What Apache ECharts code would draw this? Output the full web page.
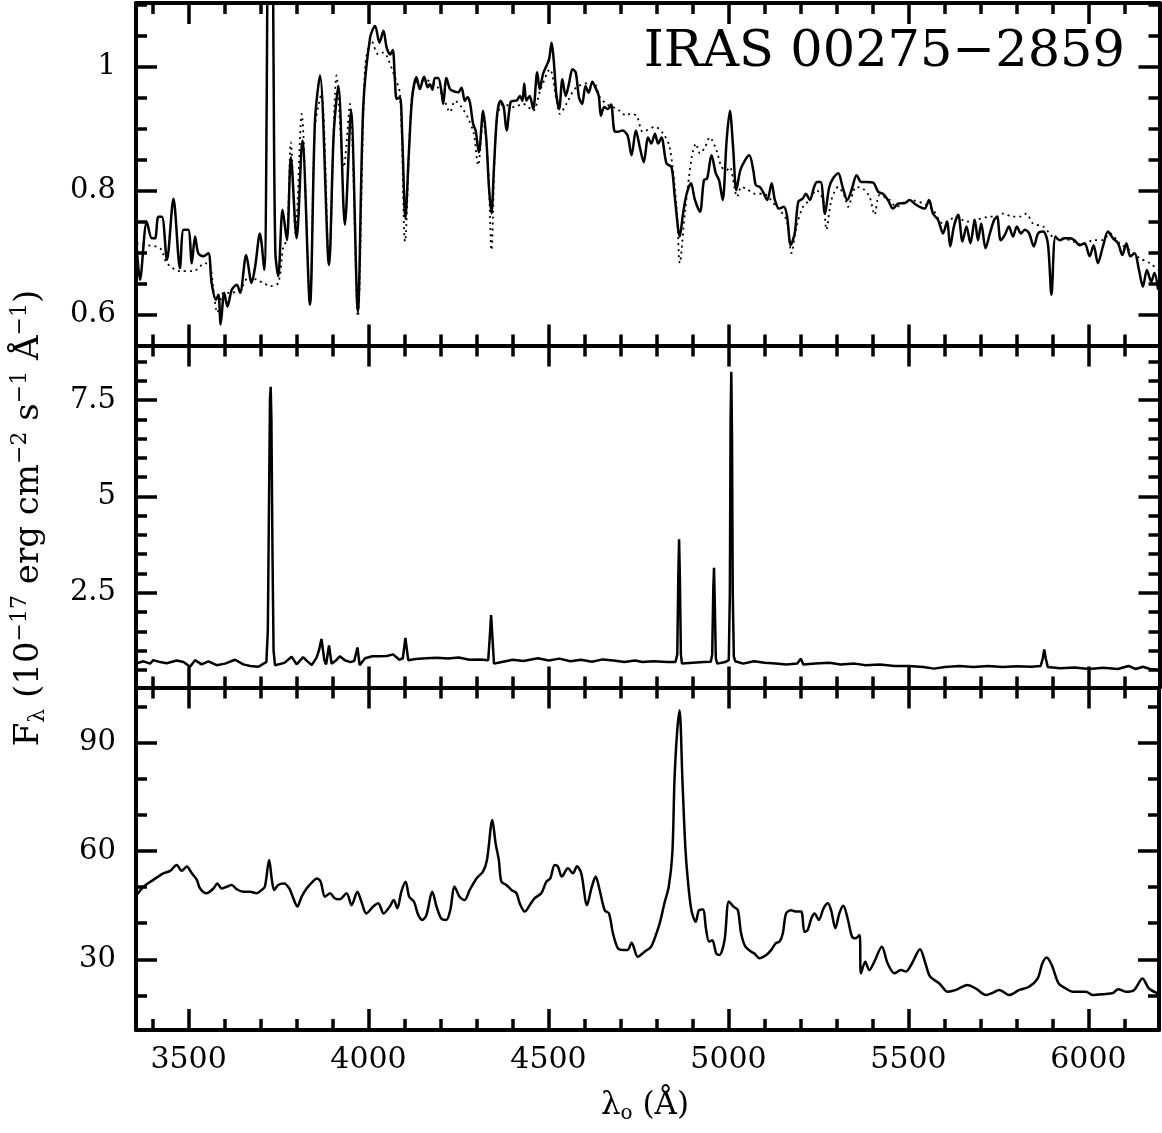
<!DOCTYPE html>
<html><head><meta charset="utf-8">
<script src="https://cdn.jsdelivr.net/npm/echarts@6/dist/echarts.min.js"></script>
<style>html,body{margin:0;padding:0;background:#fff}#c{width:1162px;height:1133px}</style>
</head><body><div id="c"></div>
<script>
// ---- Top panel: observed (solid) and model (dotted), normalised flux ----
const topWave = [3356,3365,3384,3398,3407,3416,3426,3440,3458,3476,3486,3499,3509,3518,3527,3541,3555,3564,3576,3583,3589,3599,3608,3620,3634,3643,3660,3675,3685,3698,3710,3717,3721,3727,3732,3736,3741,3749,3761,3773,3784,3800,3816,3837,3851,3865,3890,3903,3916,3934,3951,3970,3985,4004,4018,4030,4041,4050,4060,4067,4073,4078,4087,4093,4102,4112,4121,4133,4142,4154,4164,4170,4177,4184,4193,4202,4207,4216,4226,4239,4249,4258,4267,4274,4281,4290,4297,4306,4318,4327,4334,4341,4348,4357,4366,4375,4383,4394,4403,4412,4420,4427,4432,4438,4447,4457,4468,4475,4484,4494,4501,4508,4514,4521,4529,4538,4547,4556,4566,4575,4584,4593,4602,4611,4621,4630,4639,4645,4654,4664,4673,4682,4691,4705,4719,4730,4742,4753,4764,4776,4785,4795,4804,4813,4827,4841,4850,4864,4873,4883,4895,4906,4920,4931,4940,4952,4964,4973,4983,4994,5003,5012,5021,5032,5045,5057,5068,5075,5086,5095,5107,5119,5128,5140,5153,5162,5172,5183,5193,5205,5214,5225,5237,5245,5255,5267,5279,5292,5304,5316,5329,5341,5355,5368,5382,5401,5415,5428,5442,5456,5470,5489,5503,5516,5530,5544,5556,5567,5581,5595,5606,5615,5625,5637,5649,5660,5671,5683,5692,5701,5713,5725,5737,5745,5755,5766,5778,5789,5800,5811,5822,5834,5847,5859,5873,5886,5896,5907,5919,5933,5947,5960,5974,5988,6002,6013,6025,6039,6053,6067,6081,6093,6104,6115,6127,6139,6150,6161,6173,6182,6192];
const topSolid = [0.710,0.656,0.750,0.723,0.723,0.758,0.758,0.688,0.787,0.675,0.737,0.737,0.683,0.726,0.699,0.694,0.699,0.651,0.624,0.632,0.584,0.635,0.613,0.640,0.648,0.635,0.696,0.651,0.678,0.731,0.672,0.95,1.40,1.80,1.40,1.00,0.70,0.662,0.769,0.720,0.854,0.723,0.881,0.616,0.913,0.986,0.680,0.892,0.969,0.745,0.929,0.605,0.935,1.047,1.066,1.039,1.058,1.031,1.020,1.027,0.978,0.948,0.951,0.892,0.755,0.865,0.951,0.983,0.964,0.984,0.967,0.972,0.963,0.982,0.982,0.961,0.940,0.982,0.964,0.960,0.959,0.966,0.945,0.951,0.943,0.908,0.897,0.862,0.929,0.881,0.806,0.763,0.838,0.924,0.945,0.935,0.897,0.943,0.945,0.946,0.953,0.945,0.973,0.945,0.953,0.932,0.991,0.964,0.988,1.002,1.012,1.039,1.010,0.956,0.932,0.980,0.953,0.972,0.996,0.991,0.951,0.940,0.969,0.958,0.976,0.966,0.953,0.921,0.935,0.932,0.939,0.897,0.895,0.897,0.889,0.857,0.897,0.870,0.846,0.886,0.876,0.892,0.876,0.886,0.844,0.838,0.790,0.726,0.763,0.795,0.812,0.785,0.766,0.817,0.820,0.857,0.828,0.817,0.785,0.881,0.929,0.870,0.801,0.833,0.849,0.857,0.833,0.809,0.806,0.798,0.785,0.812,0.785,0.771,0.774,0.758,0.712,0.731,0.782,0.787,0.795,0.785,0.806,0.814,0.814,0.763,0.806,0.822,0.828,0.806,0.785,0.801,0.825,0.814,0.814,0.813,0.798,0.795,0.785,0.771,0.779,0.780,0.785,0.779,0.774,0.771,0.785,0.763,0.753,0.731,0.750,0.710,0.742,0.761,0.718,0.742,0.715,0.753,0.720,0.747,0.707,0.731,0.753,0.758,0.720,0.728,0.742,0.726,0.742,0.731,0.737,0.731,0.710,0.731,0.734,0.715,0.632,0.726,0.720,0.723,0.723,0.720,0.712,0.715,0.694,0.712,0.683,0.710,0.734,0.723,0.715,0.696,0.715,0.694,0.699,0.672,0.645,0.672,0.653,0.667,0.640];
const modelWave = [3356,3384,3421,3440,3476,3513,3546,3560,3569,3580,3597,3615,3643,3669,3689,3707,3726,3749,3763,3773,3784,3797,3814,3837,3851,3869,3890,3911,3931,3948,3970,3990,4008,4027,4041,4050,4068,4087,4101,4119,4133,4161,4189,4207,4226,4240,4258,4277,4292,4304,4318,4332,4341,4355,4374,4402,4429,4457,4476,4503,4522,4531,4549,4577,4623,4642,4660,4679,4697,4716,4725,4744,4762,4795,4818,4836,4855,4864,4878,4897,4909,4920,4934,4947,4966,4980,4994,5003,5017,5023,5035,5049,5072,5095,5132,5160,5174,5188,5206,5225,5243,5262,5271,5285,5304,5322,5331,5354,5373,5391,5405,5419,5447,5465,5503,5549,5567,5595,5614,5632,5660,5688,5725,5743,5762,5789,5808,5826,5845,5873,5891,5905,5928,5956,5984,6011,6039,6058,6085,6113,6141,6169,6192];
const modelFlux = [0.715,0.712,0.707,0.683,0.670,0.670,0.683,0.678,0.640,0.603,0.635,0.635,0.640,0.662,0.656,0.651,0.646,0.651,0.710,0.720,0.878,0.731,0.924,0.619,0.903,0.956,0.683,0.986,0.838,0.940,0.597,0.999,1.042,1.020,1.023,1.018,0.991,0.956,0.718,0.945,0.975,0.978,0.969,0.951,0.927,0.945,0.935,0.916,0.892,0.841,0.913,0.838,0.704,0.913,0.940,0.935,0.940,0.929,0.961,0.996,0.945,0.924,0.940,0.967,0.975,0.951,0.940,0.935,0.929,0.921,0.924,0.921,0.895,0.903,0.892,0.870,0.774,0.683,0.763,0.854,0.876,0.860,0.870,0.886,0.865,0.838,0.833,0.838,0.801,0.790,0.806,0.803,0.795,0.795,0.774,0.753,0.699,0.742,0.774,0.785,0.801,0.785,0.737,0.785,0.806,0.790,0.774,0.806,0.803,0.790,0.761,0.793,0.785,0.774,0.785,0.777,0.769,0.747,0.753,0.758,0.750,0.753,0.758,0.758,0.763,0.758,0.758,0.763,0.747,0.742,0.731,0.723,0.723,0.718,0.712,0.720,0.720,0.731,0.715,0.704,0.691,0.683,0.672];
// ---- Middle panel: emission-line spectrum ----
const emWave = [3356,3375,3393,3402,3421,3439,3467,3486,3504,3518,3536,3555,3578,3601,3629,3652,3671,3694,3708,3716,3720,3723,3726,3728,3730,3733,3736,3740,3745,3766,3786,3800,3818,3830,3842,3855,3862,3869,3877,3882,3890,3897,3910,3920,3935,3950,3960,3969,3975,3990,4010,4030,4050,4068,4085,4095,4102,4110,4130,4160,4190,4220,4250,4280,4310,4332,4336,4340,4344,4348,4370,4400,4430,4470,4500,4530,4560,4590,4620,4650,4680,4710,4740,4760,4790,4830,4852,4857,4860,4862,4864,4867,4870,4900,4930,4950,4954,4957,4959,4961,4964,4968,4990,5000,5003,5005,5007,5009,5011,5014,5018,5040,5070,5100,5130,5160,5190,5200,5207,5240,5280,5310,5350,5380,5420,5460,5500,5540,5570,5600,5640,5680,5720,5760,5800,5840,5866,5872,5876,5880,5886,5920,5960,6000,6040,6080,6110,6130,6150,6170,6195];
const emFlux = [0.67,0.72,0.66,0.75,0.70,0.67,0.74,0.70,0.58,0.75,0.64,0.72,0.62,0.66,0.76,0.64,0.60,0.58,0.66,0.70,1.5,4.5,7.5,7.85,7.0,3.5,1.0,0.62,0.66,0.68,0.84,0.64,0.83,0.72,0.62,0.81,1.0,1.30,0.75,0.64,1.13,0.66,0.75,0.85,0.74,0.70,0.73,1.08,0.62,0.80,0.85,0.85,0.86,0.90,0.76,0.80,1.33,0.75,0.78,0.80,0.81,0.79,0.82,0.76,0.77,0.75,1.3,1.92,1.3,0.66,0.70,0.76,0.73,0.80,0.74,0.79,0.72,0.76,0.71,0.77,0.74,0.70,0.74,0.70,0.72,0.70,0.70,0.9,3.0,3.89,3.0,0.9,0.66,0.68,0.70,0.71,0.9,2.6,3.15,2.3,0.8,0.66,0.70,0.75,2.5,7.0,8.24,6.5,2.5,0.85,0.72,0.66,0.72,0.68,0.66,0.64,0.66,0.79,0.64,0.66,0.68,0.64,0.66,0.62,0.64,0.60,0.60,0.57,0.53,0.57,0.60,0.57,0.60,0.57,0.59,0.58,0.60,0.80,1.03,0.80,0.57,0.54,0.56,0.52,0.55,0.52,0.60,0.52,0.58,0.52,0.49];
// ---- Bottom panel: broad-line spectrum ----
const blWave = [3356,3375,3402,3430,3449,3467,3481,3495,3509,3523,3532,3550,3569,3580,3592,3606,3620,3634,3652,3671,3689,3703,3712,3724,3731,3738,3749,3765,3780,3791,3802,3814,3828,3845,3856,3867,3879,3893,3906,3920,3939,3953,3969,3980,3994,4013,4027,4042,4059,4070,4080,4091,4103,4113,4126,4138,4150,4161,4177,4189,4202,4216,4227,4239,4253,4267,4281,4300,4318,4329,4344,4353,4362,4369,4383,4397,4411,4420,4434,4448,4461,4480,4494,4505,4517,4526,4537,4554,4568,4579,4591,4607,4619,4631,4642,4656,4668,4679,4693,4707,4720,4731,4748,4767,4785,4795,4809,4822,4834,4844,4850,4857,4864,4872,4880,4887,4897,4909,4918,4929,4938,4946,4955,4966,4975,4989,5001,5014,5026,5035,5047,5063,5072,5086,5105,5119,5131,5142,5151,5160,5174,5188,5202,5211,5220,5230,5239,5251,5264,5276,5285,5297,5308,5319,5331,5343,5353,5364,5368,5380,5391,5405,5426,5442,5461,5479,5493,5510,5532,5547,5560,5586,5609,5632,5664,5687,5715,5734,5752,5780,5808,5835,5859,5872,5884,5898,5917,5937,5956,5993,6011,6048,6067,6083,6104,6127,6150,6168,6196];
const blFlux = [47.8,50.1,52.0,53.8,54.5,56.1,54.5,55.7,53.8,52.0,49.6,48.3,49.6,51.0,49.6,50.1,50.6,49.4,48.7,48.7,48.3,49.2,50.1,57.5,52.4,49.2,50.6,51.0,49.6,46.9,44.6,47.3,49.6,51.5,52.4,51.5,47.3,48.3,46.9,46.6,48.3,45.0,48.7,46.0,42.7,44.6,45.5,42.7,44.6,46.4,44.1,48.7,51.5,47.3,46.0,42.3,40.9,42.3,48.7,44.6,41.3,40.9,43.6,50.1,47.3,46.4,49.2,52.4,54.3,57.5,68.6,62.1,57.5,51.5,50.6,49.2,48.3,45.5,43.2,45.0,46.9,48.3,51.5,52.4,56.1,55.7,52.9,55.2,53.8,55.8,53.8,45.0,49.6,52.9,49.2,43.6,42.7,37.2,33.0,32.6,32.6,34.6,30.7,32.1,33.5,35.8,40.0,45.5,50.1,59.3,79.7,92.6,99.0,79.7,61.2,52.0,43.6,40.4,43.6,43.8,38.1,34.9,35.3,31.6,31.2,35.3,46.0,44.6,43.6,37.2,33.5,32.1,31.6,30.3,31.2,32.6,34.4,34.9,37.2,42.7,43.6,43.2,43.2,37.6,38.1,41.3,42.7,40.9,44.1,45.5,43.6,38.6,42.7,44.8,41.3,36.3,35.8,36.7,26.1,29.3,27.0,29.3,33.5,28.9,26.1,27.0,26.6,28.9,32.8,28.9,25.2,23.3,21.0,21.5,22.9,21.9,20.1,20.7,21.5,20.1,21.5,22.4,24.7,28.9,30.5,28.4,23.3,21.9,21.0,21.0,20.1,20.4,20.6,21.7,21.0,21.5,24.7,21.9,20.4];

// ---- axes ranges / ticks ----
const xRange = [3354, 6196];
const xMajor = 500, xMinorSplit = 5;
const yRanges = [[0.55, 1.103], [0.04, 8.92], [10.4, 105.3]];
const yMajor = [0.2, 2.5, 30];
const yMinorSplit = [4, 5, 3];
const titleText = 'IRAS 00275\u22122859';

const FONT = 'DejaVu Serif';
const grids = [
  {left: 136, right: 2.5, top: 3, height: 342.5},
  {left: 136, right: 2.5, top: 345.5, height: 342},
  {left: 136, right: 2.5, top: 687.5, height: 342.5}
];
function pairs(w, f) { return w.map((x, i) => [x, f[i]]); }
function fmt(step) {
  return function (v) {
    const r = v / step;
    if (Math.abs(r - Math.round(r)) > 1e-6) return '';
    return String(+v.toFixed(3));
  };
}
const lineW = 4, tickW = 3.5;
function axisCommon(step, minorSplit) {
  return {
    type: 'value', minInterval: step, maxInterval: step,
    axisLine: {show: true, onZero: false, lineStyle: {color: '#000', width: lineW}},
    axisTick: {show: true, inside: true, length: 21, lineStyle: {color: '#000', width: tickW}},
    minorTick: {show: true, splitNumber: minorSplit, length: 11, lineStyle: {color: '#000', width: tickW}},
    splitLine: {show: false}, minorSplitLine: {show: false}
  };
}
const xAxes = [], yAxes = [];
for (let g = 0; g < 3; g++) {
  ['bottom', 'top'].forEach(pos => {
    xAxes.push(Object.assign(axisCommon(xMajor, xMinorSplit), {
      gridIndex: g, position: pos, min: xRange[0], max: xRange[1],
      axisLabel: {show: g === 2 && pos === 'bottom', formatter: fmt(xMajor), color: '#000',
        fontFamily: FONT, fontSize: 30, margin: 15}
    }));
  });
  ['left', 'right'].forEach(pos => {
    yAxes.push(Object.assign(axisCommon(yMajor[g], yMinorSplit[g]), {
      gridIndex: g, position: pos, min: yRanges[g][0], max: yRanges[g][1],
      axisLabel: {show: pos === 'left', formatter: fmt(yMajor[g]), color: '#000',
        fontFamily: FONT, fontSize: 29, margin: 20}
    }));
  });
}
const solid = {color: '#000', width: 2.5};
const series = [
  {type: 'line', xAxisIndex: 0, yAxisIndex: 0, data: pairs(modelWave, modelFlux), showSymbol: false, smooth: 0.3,
   lineStyle: {color: '#000', width: 1.8, type: [2, 4]}, z: 2},
  {type: 'line', xAxisIndex: 0, yAxisIndex: 0, data: pairs(topWave, topSolid), showSymbol: false, smooth: 0.3,
   lineStyle: solid, z: 3},
  {type: 'line', xAxisIndex: 2, yAxisIndex: 2, data: pairs(emWave, emFlux), showSymbol: false,
   lineStyle: solid, z: 3},
  {type: 'line', xAxisIndex: 4, yAxisIndex: 4, data: pairs(blWave, blFlux), showSymbol: false, smooth: 0.3,
   lineStyle: solid, z: 3}
];
const chart = echarts.init(document.getElementById('c'), null, {renderer: 'canvas'});
chart.setOption({
  animation: false,
  backgroundColor: '#fff',
  title: {text: titleText, right: 32, top: 22,
    textStyle: {fontFamily: FONT, fontWeight: 'normal', fontSize: 51, color: '#000'}},
  grid: grids,
  xAxis: xAxes,
  yAxis: yAxes,
  series: series,
  graphic: [
    {type: 'text', x: 29, y: 518, rotation: Math.PI / 2,
     style: {
       text: '{n|F}{sub|\u03bb}{n| (10}{sup|\u221217}{n| erg cm}{sup|\u22122}{n| s}{sup|\u22121}{n| \u00c5}{sup|\u22121}{n|)}',
       align: 'center', verticalAlign: 'middle', fill: '#000',
       rich: {
         n: {fontFamily: FONT, fontSize: 34, lineHeight: 40, fill: '#000'},
         sup: {fontFamily: FONT, fontSize: 22, lineHeight: 22, verticalAlign: 'top', fill: '#000'},
         sub: {fontFamily: FONT, fontSize: 22, lineHeight: 22, verticalAlign: 'bottom', fill: '#000'}
       }
     }},
    {type: 'text', x: 645, y: 1106,
     style: {
       text: '{n|\u03bb}{sub|o}{n| (\u00c5)}',
       align: 'center', verticalAlign: 'middle', fill: '#000',
       rich: {
         n: {fontFamily: FONT, fontSize: 31, lineHeight: 36, fill: '#000'},
         sub: {fontFamily: FONT, fontSize: 20, lineHeight: 20, verticalAlign: 'bottom', fill: '#000'}
       }
     }}
  ]
});
</script>
</body></html>
